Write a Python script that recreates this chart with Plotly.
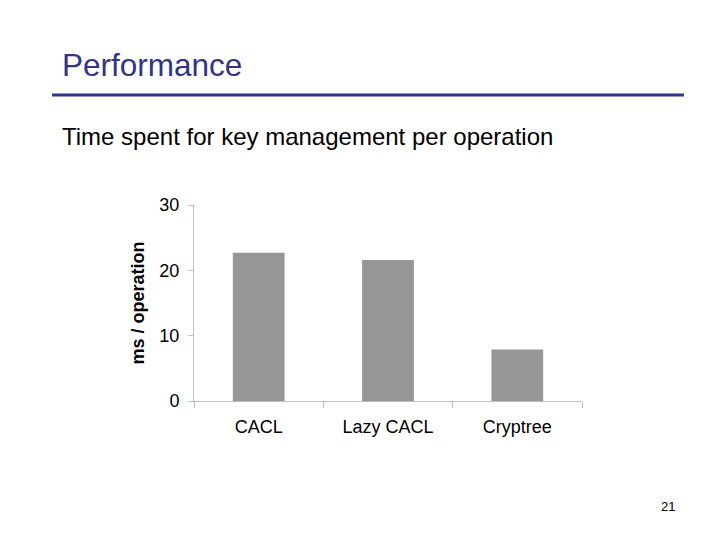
import plotly.graph_objects as go

categories = ["CACL", "Lazy CACL", "Cryptree"]
ms_per_op = [22.7, 21.6, 7.9]
y_ticks = [0, 10, 20, 30]

W, H = 720, 540
OFF = 8  # page body margin in the browser
L, R, T, B = 194 - OFF, 582 - OFF, 205 - OFF, 401 - OFF  # plot area in pixels


def px(x):
    return (x - OFF - L) / (R - L)


def py(y):
    return (B - (y - OFF)) / (B - T)


fig = go.Figure()
fig.add_trace(go.Bar(
    x=categories, y=ms_per_op, width=0.4,
    marker=dict(color="#969696", line=dict(width=0)),
))

fig.update_layout(
    width=W, height=H,
    margin=dict(l=L, r=W - R, t=T, b=H - B),
    paper_bgcolor="white", plot_bgcolor="white",
    showlegend=False,
    font=dict(family="Liberation Sans, Arial, sans-serif", color="black"),
)
fig.update_xaxes(
    showline=True, linecolor="#bfbfbf", linewidth=1,
    ticks="outside", tickson="boundaries", ticklen=6, tickcolor="#bfbfbf",
    tickfont=dict(size=18), ticklabelstandoff=9, showgrid=False,
)
fig.update_yaxes(
    range=[0, 30], tickvals=y_ticks, showline=True, linecolor="#bfbfbf", linewidth=1,
    ticks="outside", ticklen=5, tickcolor="#bfbfbf", tickfont=dict(size=18),
    ticklabelstandoff=5, showgrid=False, zeroline=False,
    title=dict(text="<b>ms / operation</b>", font=dict(size=18), standoff=10),
)

# slide header
fig.add_annotation(text="Performance", xref="paper", yref="paper", x=px(60), y=py(65),
                   xanchor="left", yanchor="middle", showarrow=False,
                   font=dict(size=31.5, color="#333388"))
fig.add_shape(type="line", xref="paper", yref="paper", x0=px(52), x1=px(684), y0=py(95), y1=py(95),
              line=dict(color="#333388", width=3))
fig.add_annotation(text="Time spent for key management per operation", xref="paper", yref="paper",
                   x=px(60), y=py(136), xanchor="left", yanchor="middle", showarrow=False,
                   font=dict(size=24, color="black"))
fig.add_annotation(text="21", xref="paper", yref="paper", x=px(677), y=py(506),
                   xanchor="right", yanchor="middle", showarrow=False,
                   font=dict(size=13, color="black"))

fig.write_html("out.html")
